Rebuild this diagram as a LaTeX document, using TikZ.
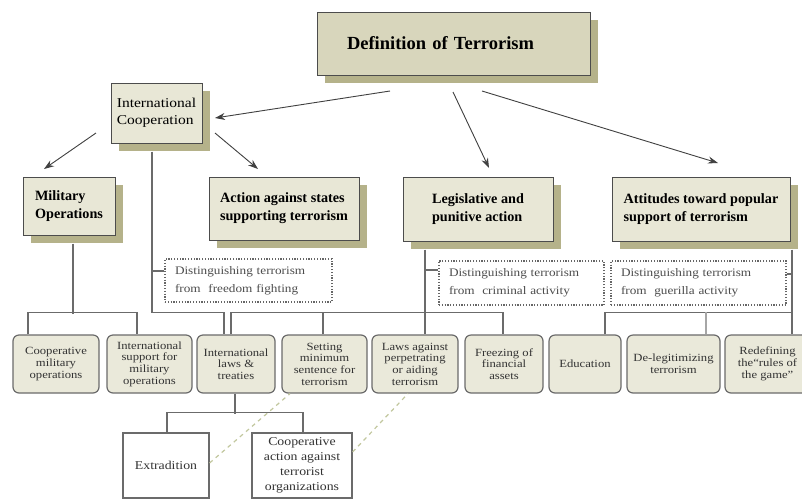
\documentclass[tikz,border=0pt]{standalone}
\usepackage{fontspec}
\setmainfont{Liberation Serif}
\newfontfamily\wfont{Liberation Serif}[FakeStretch=1.15]
\usetikzlibrary{arrows.meta,shadows}
\definecolor{deffill}{HTML}{D8D6BC}
\definecolor{hfill}{HTML}{E8E7D6}
\definecolor{shc}{HTML}{B5B28A}
\definecolor{bfill}{HTML}{EAE9DA}
\definecolor{lc}{HTML}{6B6B6B}
\definecolor{olivedash}{HTML}{C2C79E}
\tikzset{
  hdr/.style={draw=black!70, line width=1pt, fill=hfill,
    drop shadow={shadow xshift=8pt, shadow yshift=-8pt, opacity=1, fill=shc},
    align=left, inner sep=0pt, font=\bfseries\fontsize{14.2}{18}\selectfont},
  leaf/.style={draw=lc, line width=1.2pt, fill=bfill, rounded corners=6pt,
    align=center, inner sep=0pt, minimum height=58, text=black!80,
    font=\wfont\fontsize{11}{11.7}\selectfont},
  plainbox/.style={draw=lc, line width=1.2pt, fill=white, align=center,
    inner sep=0pt, text=black!80, font=\wfont\fontsize{12}{15}\selectfont},
  note/.style={draw=black!60, line width=1.1pt, dash pattern=on 1.2pt off 1.6pt,
    fill=white, align=left, inner ysep=0pt, inner xsep=10pt, text=black!70,
    font=\wfont\fontsize{11.5}{18}\selectfont},
  tl/.style={draw=lc, line width=1.3pt},
  arr/.style={draw=black!75, line width=0.9pt, -{Stealth[length=10pt,width=7pt]}},
  olv/.style={draw=olivedash, line width=1.2pt, dash pattern=on 4pt off 4pt},
}
\begin{document}
\begin{tikzpicture}[x=1pt,y=-1pt]
\useasboundingbox (0,0) rectangle (802,499);
\clip (0,0) rectangle (802,499);
\fill[white] (0,0) rectangle (802,499);

% header boxes
\node[hdr, fill=deffill, text width=213, inner xsep=30pt, minimum height=63,
  font=\bfseries\fontsize{18.5}{22}\selectfont] (def) at (453.5,43.5) {Definition of Terrorism};
\node[hdr, minimum width=91, minimum height=60, font=\wfont\fontsize{13.5}{17}\selectfont]
  (ic) at (156.5,113) {International\\Cooperation};
\node[hdr, minimum width=92, minimum height=58] (mil) at (69,206) {Military\\Operations};
\node[hdr, minimum width=150, minimum height=63] (act) at (284,208.5) {Action against states\\supporting terrorism};
\node[hdr, minimum width=150, minimum height=64] (leg) at (478,209) {Legislative and\\punitive action};
\node[hdr, minimum width=178, minimum height=64] (att) at (701,209) {Attitudes toward popular\\support of terrorism};

% dotted notes
\node[note, text width=147, minimum height=43] (n1) at (248.5,280.5) {Distinguishing terrorism\\from\ \ freedom fighting};
\node[note, text width=145, minimum height=44] (n2) at (521.5,283) {Distinguishing terrorism\\from\ \ criminal activity};
\node[note, text width=155, minimum height=44] (n3) at (698.5,283) {Distinguishing terrorism\\from\ \ guerilla activity};

% bottom row
\node[leaf, minimum width=86] (b1) at (56,364) {Cooperative\\military\\operations};
\node[leaf, minimum width=85] (b2) at (149.5,364) {International\\support for\\military\\operations};
\node[leaf, minimum width=78] (b3) at (236,364) {International\\laws \&\\treaties};
\node[leaf, minimum width=85] (b4) at (324.5,364) {Setting\\minimum\\sentence for\\terrorism};
\node[leaf, minimum width=86] (b5) at (415,364) {Laws against\\perpetrating\\or aiding\\terrorism};
\node[leaf, minimum width=78] (b6) at (504,364) {Freezing of\\financial\\assets};
\node[leaf, minimum width=72] (b7) at (585,364) {Education};
\node[leaf, minimum width=93] (b8) at (673.5,364) {De-legitimizing\\terrorism};
\node[leaf, minimum width=85] (b9) at (767.5,364) {Redefining\\the“rules of\\the game”};

% lowest boxes
\node[plainbox, minimum width=86, minimum height=65] (ext) at (166,465.5) {Extradition};
\node[plainbox, minimum width=100, minimum height=65] (coa) at (302,465.5) {Cooperative\\action against\\terrorist\\organizations};

% arrows
\coordinate (a1s) at (390,91);  \coordinate (a1e) at (215,118);
\coordinate (a2s) at (96,133);  \coordinate (a2e) at (44,169);
\coordinate (a3s) at (215,133); \coordinate (a3e) at (258,169);
\coordinate (a4s) at (453,92);  \coordinate (a4e) at (489,168);
\coordinate (a5s) at (482,91);  \coordinate (a5e) at (718,163);
\draw[arr] (a1s) -- (a1e);
\draw[arr] (a2s) -- (a2e);
\draw[arr] (a3s) -- (a3e);
\draw[arr] (a4s) -- (a4e);
\draw[arr] (a5s) -- (a5e);

% military tree
\draw[tl] ([xshift=4pt,yshift=-8pt]mil.south) -- ++(0,70);
\draw[tl] ([xshift=-28pt]b1.north) |- ([xshift=-12.5pt,yshift=22pt]b2.north) -- ([xshift=-12.5pt]b2.north);

% international cooperation tree
\draw[tl] ([xshift=-4.5pt,yshift=-8pt]ic.south) |- ([xshift=-12pt,yshift=22pt]b3.north) -- ([xshift=-12pt]b3.north);
\draw[tl] ([yshift=9.5pt]n1.west) -- ++(-13,0);

% legislative tree
\draw[tl] ([xshift=-53pt,yshift=-8pt]leg.south) -- ([xshift=10pt]b5.north);
\draw[tl] ([xshift=-5pt]b3.north) -- ++(0,-22) -| ([xshift=-1pt]b6.north);
\draw[tl] ([xshift=-1.5pt]b4.north) -- ++(0,-22);
\draw[tl] ([yshift=13pt]n2.west) -- ++(-14,0);

% attitudes tree
\draw[tl] ([xshift=91pt,yshift=-8pt]att.south) -- ([xshift=24.5pt]b9.north);
\draw[tl] ([xshift=20pt]b7.north) -- ++(0,-22) -- ([xshift=24.5pt,yshift=22pt]b9.north);
\draw[tl, draw=black!35] ([xshift=32.5pt]b8.north) -- ++(0,-22);
\draw[tl] ([yshift=9pt]n3.east) -- ++(6,0);

% international laws subtree
\draw[tl] ([xshift=-1pt]b3.south) -- ++(0,20);
\draw[tl] ([xshift=1pt]ext.north) |- ([xshift=1pt,yshift=20pt]coa.north) -- ([xshift=1pt]coa.north);

% olive dashed links
\draw[olv] ([yshift=2.5pt]ext.east) -- ([xshift=-34.5pt]b4.south);
\draw[olv] ([yshift=13.5pt]coa.east) -- ([xshift=-7pt]b5.south);
\end{tikzpicture}
\end{document}
